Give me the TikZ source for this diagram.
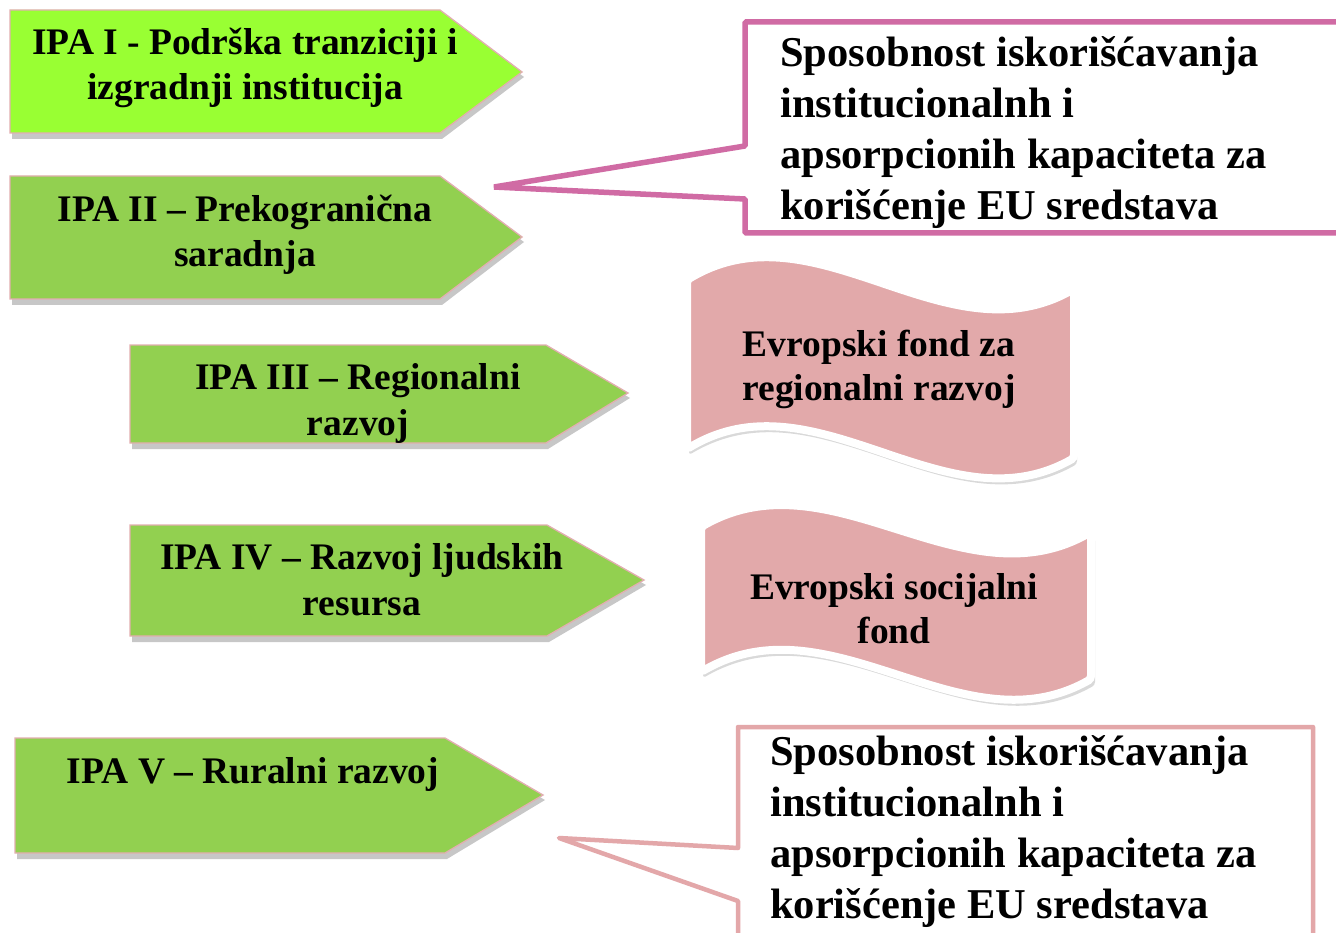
\documentclass[tikz,border=0pt]{standalone}
\usepackage{fontspec}
\setmainfont{Liberation Serif}
\definecolor{brightgreen}{HTML}{99FF33}
\definecolor{ipagreen}{HTML}{92D050}
\definecolor{ipaborder}{HTML}{E2AEB0}
\definecolor{wavepink}{HTML}{E2A9AA}
\definecolor{calloutmagenta}{HTML}{D06BA4}
\definecolor{calloutpink}{HTML}{E3A7A9}
\tikzset{
  ipabox/.style={fill=ipagreen, draw=ipaborder, line width=1.3pt, line join=miter},
  ipashadow/.style={fill=black, opacity=0.22},
  ipatext/.style={font=\fontsize{37.5}{45.5}\selectfont\bfseries, align=center, anchor=base, inner sep=0pt},
  wavebox/.style={fill=wavepink, draw=white, line width=8pt, rounded corners=3pt},
  waveshadow/.style={fill=black, opacity=0.15, rounded corners=3pt},
  wavetext/.style={font=\fontsize{37.5}{43.5}\selectfont\bfseries, align=center, anchor=base, inner sep=0pt},
  callouttext/.style={font=\fontsize{42.5}{51}\selectfont\bfseries, align=left, anchor=base west, inner sep=0pt},
}
\begin{document}
\begin{tikzpicture}[x=1pt, y=-1pt]
\useasboundingbox (0,0) rectangle (1336,933);
\clip (0,0) rectangle (1336,933);
\fill[white] (0,0) rectangle (1336,933);

% ---------- green IPA arrows ----------
% IPA I
\fill[ipashadow] (12,15) -- (442,15) -- (524,77) -- (442,139) -- (12,139) -- cycle;
\draw[ipabox, fill=brightgreen] (10,10) -- (440,10) -- (522,72) -- (440,133) -- (10,133) -- cycle;
\node[ipatext] (ipa1) at (245,100) {IPA I - Podrška tranziciji i\\izgradnji institucija};
% IPA II
\fill[ipashadow] (12,181) -- (442,181) -- (524,242) -- (442,305) -- (12,305) -- cycle;
\draw[ipabox] (10,176) -- (440,176) -- (522,237) -- (440,299) -- (10,299) -- cycle;
\node[ipatext] (ipa2) at (245,267) {IPA II – Prekogranična\\saradnja};
% IPA III
\fill[ipashadow] (132,350) -- (548,350) -- (630,398) -- (548,449) -- (132,449) -- cycle;
\draw[ipabox] (130,345) -- (546,345) -- (628,393) -- (546,443) -- (130,443) -- cycle;
\node[ipatext] (ipa3) at (358,435) {IPA III – Regionalni\\razvoj};
% IPA IV
\fill[ipashadow] (132,530) -- (549,530) -- (646,585) -- (549,642) -- (132,642) -- cycle;
\draw[ipabox] (130,525) -- (547,525) -- (644,580) -- (547,636) -- (130,636) -- cycle;
\node[ipatext] (ipa4) at (362,615) {IPA IV – Razvoj ljudskih\\resursa};
% IPA V
\fill[ipashadow] (17,743) -- (447,743) -- (545,800) -- (447,859) -- (17,859) -- cycle;
\draw[ipabox] (15,738) -- (445,738) -- (543,795) -- (445,853) -- (15,853) -- cycle;
\node[ipatext] (ipa5) at (253,783) {IPA V – Ruralni razvoj};

% ---------- wave shapes ----------
% wave 1
\fill[waveshadow] (689,286) .. controls (819,208) and (948,368) .. (1077,295)
   -- (1077,464) .. controls (948,537) and (819,377) .. (689,455) -- cycle;
\draw[wavebox] (687,280) .. controls (816,202) and (945,362) .. (1074,289)
   -- (1074,458) .. controls (945,531) and (816,371) .. (687,449) -- cycle;
\node[wavetext] (fond1) at (879,400) {Evropski fond za\\regionalni razvoj};
% wave 2
\fill[waveshadow] (703,533) .. controls (834,458) and (966,612) .. (1095,538)
   -- (1095,685) .. controls (966,758) and (834,602) .. (703,678) -- cycle;
\draw[wavebox] (701,527) .. controls (831,452) and (962,606) .. (1091,532)
   -- (1091,679) .. controls (962,752) and (831,596) .. (701,672) -- cycle;
\node[wavetext] (fond2) at (894,643) {Evropski socijalni\\fond};

% ---------- callouts ----------
\draw[fill=white, draw=calloutmagenta, line width=5.5pt, line join=bevel]
  (745,22) -- (1345,22) -- (1345,233) -- (745,233) -- (745,199) -- (494,187) -- (745,146) -- cycle;
\node[callouttext] (cap1) at (780,220)
  {Sposobnost iskorišćavanja\\institucionalnh i\\apsorpcionih kapaciteta za\\korišćenje EU sredstava};

\draw[fill=white, draw=calloutpink, line width=4.5pt, line join=round]
  (738,727) -- (1313,727) -- (1313,950) -- (738,950) -- (738,901) -- (559,838) -- (738,848) -- cycle;
\node[callouttext] (cap2) at (770,918)
  {Sposobnost iskorišćavanja\\institucionalnh i\\apsorpcionih kapaciteta za\\korišćenje EU sredstava};
\end{tikzpicture}
\end{document}
